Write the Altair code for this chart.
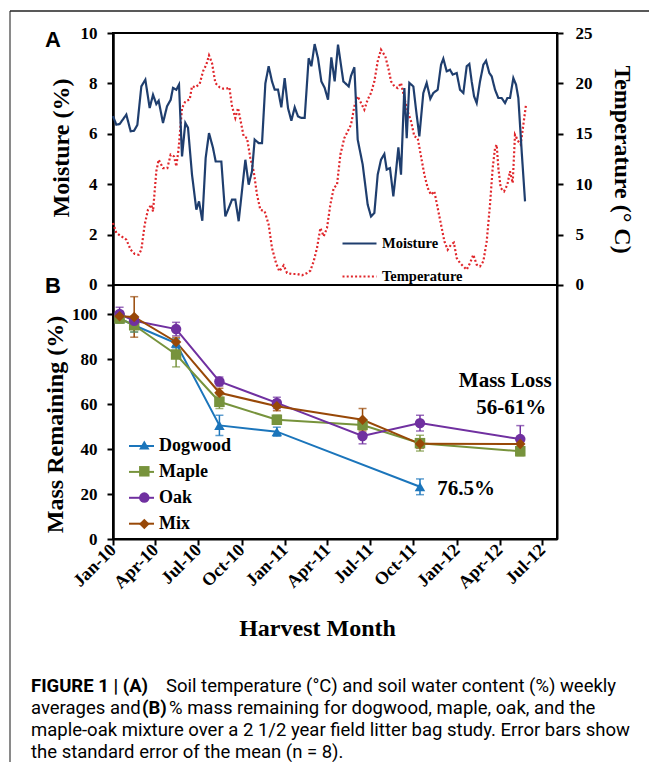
import altair as alt
import pandas as pd

SERIF = "Liberation Serif"
SANS = "Liberation Sans"
CAP_FONT = "Roboto"

BASE = pd.Timestamp("2010-01-01")

# ---------------- Panel A: weekly soil moisture (%) and temperature (deg C)
# day offsets from 1 Jan 2010
moist_day = [0, 7.1, 14.2, 28.3, 37.5, 44.6, 51.7, 60.2, 68.7, 77.9, 85, 92, 97, 106.2, 114.7,
             122.5, 127.4, 134.5, 140.2, 146.6, 153.6, 159.3, 167.8, 177, 182.7, 189.7, 196.8,
             203.9, 212.4, 218.1, 230.1, 238.6,
             245.7, 252.8, 259.8, 266.9, 281.1, 288.2, 295.2, 300.9, 309.4, 316.5, 323.6, 330.6,
             337.7, 343.4, 350.5, 357.5, 364.6, 371.7, 378.8, 385.9, 392.9, 400, 407.1, 415.6,
             421.3, 428.3, 435.4, 442.5, 449.6, 456.7, 463.7, 470.8, 477.9,
             482.1, 489.2, 494.9, 500.6, 505.5, 512.6, 519.7, 530.3, 540.9, 548, 555.1, 562.2,
             569.2, 576.3, 581.3, 588.3, 595.4, 601.1, 606.1, 611.7, 618.8, 623.8, 629.4, 637.9,
             643.6, 650.6, 659.1, 666.2, 674, 680.4, 689.6, 696.7, 701.6, 708.7, 715.8, 721.5,
             730, 737, 744.1, 751.2, 756.8, 761.8, 766.8, 772.4, 779.5, 786.6, 792.3, 799.3,
             804.3, 811.4, 818.4, 825.5, 832.6, 837.6, 843.2, 850.3, 856, 860.9, 868, 875.1]
moist_val = [6.7, 6.36, 6.39, 6.76, 6.1, 6.12, 6.35, 7.88, 8.15, 7.02, 7.55, 7.18, 7.31, 6.43, 7.09,
             7.35, 7.82, 7.75, 7.95, 5.1, 6.43, 6.24, 4.38, 2.99, 3.32, 2.55, 5.04,
             6.03, 5.44, 4.9, 4.9, 2.72,
             3.05, 3.39, 3.39, 2.53, 4.97, 3.98, 4.51, 5.77, 5.63, 5.63, 8.0, 8.68,
             8.08, 7.75, 7.75, 7.05, 8.21, 7.02, 6.52, 7.05, 6.69, 6.63, 6.63, 9.0,
             8.68, 9.56, 9.0, 8.08, 7.82, 7.35, 9.03, 8.08, 9.54,
             9.0, 8.08, 7.98, 7.88, 8.3, 8.64, 5.77, 4.78, 3.19, 2.72, 2.86, 4.38,
             4.97, 5.2, 4.58, 4.64, 3.52, 4.51, 5.46, 4.38, 7.82, 5.83, 8.02, 7.88,
             6.96, 5.9, 7.62, 8.02, 7.39, 7.62, 7.75, 8.74, 8.98, 8.48, 8.54, 8.35,
             8.41, 7.75, 7.62, 8.68, 8.77, 8.08, 7.49, 7.22, 8.08, 8.74, 8.9, 8.41,
             8.28, 7.75, 7.42, 7.42, 7.22, 7.42, 7.42, 8.21, 7.95, 7.42, 5.3, 3.32]

temp_day = [0, 7.08, 17.7, 28.3, 37.5, 46.0, 54.5, 60.2, 67.3, 74.3, 81.4, 85, 92, 97, 106.2,
            115.4, 122.5, 129.6, 134.5, 139.5, 146.6, 153.6, 162.8, 167.8, 174.9, 184.1, 191.2,
            198.2, 203.9, 210.3, 217.4, 226.6, 233.6, 242.5,
            247.1, 252.8, 259.8, 265.5, 270.5, 277.5, 284.6, 291.7, 298.8, 305.9, 312.9, 322.1,
            330.6, 337.7, 346.2, 353.3, 362.5, 369.6, 380.2, 390.8, 401.4, 412.1, 419.1, 426.2,
            433.3, 440.4, 447.5, 454.5, 461.6, 468.7, 475.8, 482.9,
            491.3, 498.4, 505.5, 512.6, 519.7, 526.8, 533.8, 540.9, 548, 555.1, 562.2, 569.2,
            578.4, 585.5, 590.5, 597.6, 604.6, 611.7, 618.8, 625.9, 633, 640, 647.1, 654.2,
            661.3, 668.4, 675.4, 682.5, 689.6, 696.7, 703.8, 710.8, 717.9,
            724, 730, 737, 744.1, 751.2, 758.3, 765.3, 772.4, 779.5, 786.6, 793.7, 800.7,
            806.4, 811.4, 814.9, 818.4, 823.4, 830.5, 837.6, 843.2, 848.9, 853.8, 860.9, 865.9,
            871.5, 877.2]
temp_val = [6.15, 5.16, 4.83, 4.5, 3.5, 3.08, 3.0, 3.5, 5.99, 7.47, 7.97, 7.3, 11.28, 12.43, 11.6,
            11.6, 12.93, 12.76, 11.77, 13.59, 17.56, 18.22, 18.39, 19.71, 19.61, 19.94, 21.2,
            21.86, 22.78, 22.02, 20.04, 19.61, 19.48, 19.5,
            19.61, 17.72, 16.57, 17.56, 16.4, 14.75, 14.58, 12.6, 11.28, 8.96, 7.47, 7.31,
            5.99, 3.67, 2.18, 1.36, 1.95, 1.19, 1.09, 1.09, 0.96, 1.19, 1.42, 2.35,
            3.67, 5.65, 4.83, 5.65, 7.97, 9.62, 9.95, 12.93,
            14.58, 15.24, 15.9, 17.72, 18.72, 18.06, 17.39, 18.39, 19.05, 20.2, 22.19, 23.35,
            22.68, 21.36, 20.2, 19.71, 19.54, 20.04, 18.55, 17.23, 16.24, 14.75, 14.58, 12.76,
            10.95, 9.62, 8.96, 9.29, 7.64, 5.99, 4.33, 3.5, 4.0,
            4.2, 2.68, 2.18, 1.85, 1.52, 2.18, 3.0, 2.02, 1.85, 2.35, 4.33, 7.97,
            11.61, 13.59, 13.92, 11.61, 9.62, 9.29, 9.95, 11.28, 10.12, 14.91, 14.25, 13.92,
            15.9, 17.89]

series_names = ["Moisture", "Temperature"]
series_colors = ["#1F3E6E", "#E0262B"]

# ---------------- Panel B: % mass remaining at each harvest
harvest_dates = ["2010-01-15", "2010-02-15", "2010-05-15", "2010-08-15",
                 "2010-12-15", "2011-06-15", "2011-10-15", "2012-05-15"]
species = ["Dogwood", "Maple", "Oak", "Mix"]
dogwood_mean = [98, 95, 87, 50.5, 47.7, None, 23.2, None]
dogwood_se = [2, 3, 2, 4.5, 2, None, 3.5, None]
maple_mean = [98, 95, 82, 61, 53, 50.7, 42.6, 39]
maple_se = [2, 3, 5.5, 3, 2, 2, 3.5, 2]
oak_mean = [100, 97, 93.3, 70, 60.5, 45.8, 51.5, 44.4]
oak_se = [3, 2, 3, 2, 2.5, 3.5, 3.5, 6]
mix_mean = [99, 98.7, 87.6, 65, 59, 53, 42.3, 42.2]
mix_se = [2, 9, 2, 2, 2, 5, 2, 2]
species_colors = ["#1B75BB", "#77933C", "#7030A0", "#984807"]
species_shapes = ["triangle-up", "square", "circle", "diamond"]

ann_text = ["Mass Loss", "56-61%", "76.5%"]
ann_date = ["2012-04-13", "2012-04-26", "2012-01-21"]
ann_mass = [70.2, 58.2, 22.2]

tick_months = [(2010, 1), (2010, 4), (2010, 7), (2010, 10), (2011, 1), (2011, 4),
               (2011, 7), (2011, 10), (2012, 1), (2012, 4), (2012, 7)]

caption_lines = [
    ["FIGURE 1 | (A)", "Soil temperature (°C) and soil water content (%) weekly"],
    ["averages and", "(B)", "% mass remaining for dogwood, maple, oak, and the"],
    ["maple-oak mixture over a 2 1/2 year field litter bag study. Error bars show"],
    ["the standard error of the mean (n = 8)."],
]

# ---------------- data frames
moist_df = pd.DataFrame({"date": BASE + pd.to_timedelta(moist_day, unit="D"),
                         "moist": moist_val, "series": "Moisture"})
temp_df = pd.DataFrame({"date": BASE + pd.to_timedelta(temp_day, unit="D"),
                        "temp": temp_val, "series": "Temperature"})
rows = []
for sp, means, ses in zip(species, [dogwood_mean, maple_mean, oak_mean, mix_mean],
                          [dogwood_se, maple_se, oak_se, mix_se]):
    for d, m, s in zip(harvest_dates, means, ses):
        if m is None:
            continue
        rows.append({"date": pd.Timestamp(d), "species": sp, "marker": "m_" + sp,
                     "mass": m, "lo": m - s, "hi": m + s})
mass_df = pd.DataFrame(rows)
ann_df = pd.DataFrame({"date": pd.to_datetime(ann_date), "mass": ann_mass, "label": ann_text})
dummy = pd.DataFrame({"a": [0]})

# ---------------- scales / axes
x_scale = alt.Scale(domain=[alt.DateTime(year=2010, month=1, date=1),
                            alt.DateTime(year=2012, month=8, date=1)], nice=False)
x_axis = alt.Axis(values=[alt.DateTime(year=y, month=m, date=1) for y, m in tick_months],
                  format="%b-%y", labelAngle=-45, labelAlign="right", labelBaseline="middle",
                  labelOverlap=False, labelFont=SERIF, labelFontWeight="bold", labelFontSize=18,
                  labelColor="black", labelPadding=2, tickSize=6, title="Harvest Month",
                  titleFont=SERIF, titleFontWeight="bold", titleFontSize=24, titleColor="black",
                  titleX=204, titleY=89, titleBaseline="middle", titleAlign="center", grid=False)


def X(field="date"):
    return alt.X(f"{field}:T", scale=x_scale, axis=x_axis)


lab = dict(labelFont=SERIF, labelFontWeight="bold", labelFontSize=17, labelColor="black",
           tickSize=6, grid=False, titleFont=SERIF, titleFontWeight="bold", titleFontSize=24,
           titleColor="black", titleBaseline="middle", titleAlign="center")
moist_scale = alt.Scale(domain=[-10.08, 10], nice=False, zero=False)
temp_scale = alt.Scale(domain=[-25.2, 25], nice=False, zero=False)
mass_scale = alt.Scale(domain=[0, 224.9], nice=False, zero=False)

moist_axis = alt.Axis(orient="left", values=[0, 2, 4, 6, 8, 10], title="Moisture (%)",
                      titleAngle=-90, titleX=-52, titleY=114.5, labelPadding=10, **lab)
temp_axis = alt.Axis(orient="right", values=[0, 5, 10, 15, 20, 25], title="Temperature (° C)",
                     titleAngle=90, titleX=64, titleY=126, labelPadding=12, **lab)
mass_axis = alt.Axis(orient="left", values=[0, 20, 40, 60, 80, 100], title="Mass Remaining (%)",
                     titleAngle=-90, titleX=-58, titleY=391, labelPadding=10, **lab)

series_color = alt.Scale(domain=series_names, range=series_colors)
series_dash = alt.Scale(domain=series_names, range=[[1, 0], [2, 2.2]])
legA = alt.Legend(orient="none", legendX=228, legendY=192, title=None, symbolType="stroke",
                  symbolSize=1156, symbolStrokeWidth=2.2, labelFont=SERIF, labelFontWeight="bold",
                  labelFontSize=14.5, labelColor="black", labelOffset=4, rowPadding=8,
                  padding=0)

sp_color = alt.Scale(domain=species, range=species_colors)
mk_domain = ["m_" + s for s in species]
leg_lines = alt.Legend(orient="none", legendX=15, legendY=399.5, title=None, symbolType="stroke",
                       symbolSize=625, symbolStrokeWidth=2, labelFont=SERIF,
                       labelFontWeight="bold", labelFontSize=18, labelColor="black",
                       labelOffset=4, rowPadding=2.9, padding=0)
leg_marks = alt.Legend(orient="none", legendX=22.3, legendY=403, title=None, symbolSize=110,
                       symbolStrokeWidth=0, labelFont=SERIF, labelFontWeight="bold",
                       labelFontSize=18, labelExpr="''", labelOffset=4, rowPadding=8.3,
                       padding=0)

# ---------------- layers
frame_left = alt.Chart(dummy).mark_rule(color="#8a8a8a", strokeWidth=2).encode(
    x=alt.value(-103), y=alt.value(-22), y2=alt.value(760))
frame_top = alt.Chart(dummy).mark_rule(color="#222222", strokeWidth=1.5).encode(
    x=alt.value(-103), x2=alt.value(560), y=alt.value(-22))

temp_line = alt.Chart(temp_df).mark_line(strokeWidth=2.2).encode(
    x=X(), y=alt.Y("temp:Q", scale=temp_scale, axis=temp_axis),
    color=alt.Color("series:N", scale=series_color, legend=None),
    strokeDash=alt.StrokeDash("series:N", scale=series_dash, legend=None))
moist_line = alt.Chart(moist_df).mark_line(strokeWidth=2.2).encode(
    x=X(), y=alt.Y("moist:Q", scale=moist_scale, axis=moist_axis),
    color=alt.Color("series:N", scale=series_color, legend=legA),
    strokeDash=alt.StrokeDash("series:N", scale=series_dash, legend=legA))
separator = alt.Chart(dummy).mark_rule(color="black", strokeWidth=2).encode(
    y=alt.Y("a:Q", scale=moist_scale, axis=None))

err = alt.Chart(mass_df).mark_rule(strokeWidth=1.5).encode(
    x=X(), y=alt.Y("lo:Q", scale=mass_scale, axis=None), y2="hi:Q",
    color=alt.Color("species:N", scale=sp_color, legend=None))
cap_lo = alt.Chart(mass_df).mark_tick(orient="horizontal", size=8, thickness=1.5).encode(
    x=X(), y=alt.Y("lo:Q", scale=mass_scale, axis=None),
    color=alt.Color("species:N", scale=sp_color, legend=None))
cap_hi = alt.Chart(mass_df).mark_tick(orient="horizontal", size=8, thickness=1.5).encode(
    x=X(), y=alt.Y("hi:Q", scale=mass_scale, axis=None),
    color=alt.Color("species:N", scale=sp_color, legend=None))
mass_lines = alt.Chart(mass_df).mark_line(strokeWidth=2).encode(
    x=X(), y=alt.Y("mass:Q", scale=mass_scale, axis=mass_axis),
    color=alt.Color("species:N", scale=sp_color, legend=leg_lines),
    order="date:T")
mass_pts = alt.Chart(mass_df).mark_point(filled=True, size=110, opacity=1).encode(
    x=X(), y=alt.Y("mass:Q", scale=mass_scale, axis=None),
    fill=alt.Fill("marker:N", scale=alt.Scale(domain=mk_domain, range=species_colors),
                  legend=leg_marks),
    shape=alt.Shape("marker:N", scale=alt.Scale(domain=mk_domain, range=species_shapes),
                    legend=leg_marks))
ann = alt.Chart(ann_df).mark_text(font=SERIF, fontWeight="bold", fontSize=21,
                                  color="black", align="center", baseline="middle").encode(
    x=X(), y=alt.Y("mass:Q", scale=mass_scale, axis=None), text="label:N")


def txt(text, x, y, font, size, weight="normal", align="left", baseline="alphabetic"):
    return alt.Chart(dummy).mark_text(text=text, x=x, y=y, font=font, fontSize=size,
                                      fontWeight=weight, align=align, baseline=baseline,
                                      color="black")


letters = [txt("A", -60, 7, SANS, 22, "bold", "center", "middle"),
           txt("B", -60, 253, SANS, 22, "bold", "center", "middle")]

CS = 18.5
cap_y = [659, 681, 703, 725]
cap_layers = [
    txt(caption_lines[0][0], -82, cap_y[0], CAP_FONT, CS, "bold"),
    txt(caption_lines[0][1], 53, cap_y[0], CAP_FONT, CS),
    txt(caption_lines[1][0], -82, cap_y[1], CAP_FONT, CS),
    txt(caption_lines[1][1], 29, cap_y[1], CAP_FONT, CS, "bold"),
    txt(caption_lines[1][2], 56, cap_y[1], CAP_FONT, CS),
    txt(caption_lines[2][0], -82, cap_y[2], CAP_FONT, CS),
    txt(caption_lines[3][0], -82, cap_y[3], CAP_FONT, CS),
]

chart = alt.layer(
    frame_left, frame_top, temp_line, moist_line, separator, err, cap_lo, cap_hi,
    mass_lines, mass_pts, ann, *letters, *cap_layers
).resolve_scale(
    y="independent", color="independent", strokeDash="independent",
    fill="independent", shape="independent"
).properties(
    width=444, height=506,
    autosize=alt.AutoSizeParams(type="none"),
    padding={"left": 105, "top": 25, "right": 92, "bottom": 223},
).configure_view(
    stroke="black", strokeWidth=2
).configure_axis(
    domainColor="black", domainWidth=2, tickColor="black", tickWidth=2, grid=False
)

chart.save("out.html", embed_options={"renderer": "svg", "actions": False})
